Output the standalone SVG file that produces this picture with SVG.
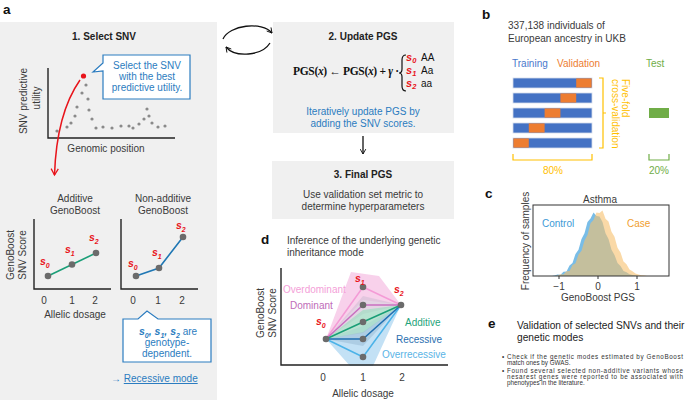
<svg xmlns="http://www.w3.org/2000/svg" width="685" height="400" viewBox="0 0 685 400">
<defs>
<style>
text{font-family:"Liberation Sans",Arial,sans-serif;}
.lbl{font-size:13.5px;font-weight:bold;fill:#111;}
.t{font-size:10px;fill:#3a3a3a;}
.tb{font-size:10px;font-weight:bold;fill:#222;}
.blue{font-size:10px;fill:#2b7cc0;}
.rs{font-size:10.5px;font-weight:bold;font-style:italic;fill:#e8141b;}
.rsub{font-size:7px;font-weight:bold;font-style:italic;fill:#e8141b;}
.bs{font-size:10.5px;font-weight:bold;font-style:italic;fill:#2b7cc0;}
.bsub{font-size:7px;font-weight:bold;font-style:italic;fill:#2b7cc0;}
.axis{fill:none;stroke:#222;stroke-width:1.4;}
.pt{fill:#6b6b6b;}
.dot{fill:#8a8a8a;}
.panel{fill:#f0f0f0;}
.callout{fill:#fff;stroke:#2b7cc0;stroke-width:1.2;}
.arrow{fill:none;stroke:#111;stroke-width:1.3;}
.serif{font-family:"Liberation Serif","Times New Roman",serif;}
.bul{font-size:6.3px;fill:#333;}
</style>
<marker id="ah" viewBox="0 0 10 10" refX="8" refY="5" markerWidth="7" markerHeight="7" orient="auto" markerUnits="userSpaceOnUse">
<path d="M1,1 L8,5 L1,9" fill="none" stroke="#111" stroke-width="1.3"/>
</marker>
<marker id="ahr" viewBox="0 0 10 10" refX="8" refY="5" markerWidth="9" markerHeight="9" orient="auto" markerUnits="userSpaceOnUse">
<path d="M1,1 L8,5 L1,9" fill="none" stroke="#e8141b" stroke-width="1.4"/>
</marker>
</defs>
<rect width="685" height="400" fill="#fff"/>

<text class="lbl" x="3" y="14">a</text>

<g id="select-snv">
<rect class="panel" x="0" y="22" width="217" height="378"/>
<text class="tb" x="104" y="40" text-anchor="middle">1. Select SNV</text>
<path class="callout" d="M103,55 H190 V99 H103 V71 L93,72 L103,63 Z"/>
<text class="blue" x="147" y="69" text-anchor="middle">Select the SNV</text>
<text class="blue" x="147" y="80" text-anchor="middle">with the best</text>
<text class="blue" x="147" y="91" text-anchor="middle">predictive utility.</text>
<path class="axis" d="M48,68 V138 H175"/>
<text class="t" transform="translate(27,101) rotate(-90)" text-anchor="middle">SNV predictive</text>
<text class="t" transform="translate(40,98) rotate(-90)" text-anchor="middle">utility</text>
<text class="t" x="106" y="152" text-anchor="middle">Genomic position</text>
<g>
<circle class="dot" cx="57" cy="131" r="1.6"/><circle class="dot" cx="67" cy="127" r="1.6"/><circle class="dot" cx="71" cy="123" r="1.6"/><circle class="dot" cx="75" cy="116" r="1.6"/><circle class="dot" cx="77" cy="107" r="1.6"/><circle class="dot" cx="82" cy="93" r="1.6"/><circle class="dot" cx="86" cy="85" r="1.6"/><circle class="dot" cx="88" cy="99" r="1.6"/><circle class="dot" cx="89" cy="110" r="1.6"/><circle class="dot" cx="92" cy="119" r="1.6"/><circle class="dot" cx="96" cy="128" r="1.6"/><circle class="dot" cx="103" cy="127" r="1.6"/><circle class="dot" cx="112" cy="128" r="1.6"/><circle class="dot" cx="121" cy="126" r="1.6"/><circle class="dot" cx="129" cy="126" r="1.6"/><circle class="dot" cx="133" cy="128" r="1.6"/><circle class="dot" cx="139" cy="124" r="1.6"/><circle class="dot" cx="144" cy="119" r="1.6"/><circle class="dot" cx="147" cy="109" r="1.6"/><circle class="dot" cx="149" cy="116" r="1.6"/><circle class="dot" cx="152" cy="123" r="1.6"/><circle class="dot" cx="158" cy="127" r="1.6"/><circle class="dot" cx="165" cy="126" r="1.6"/>
<circle cx="83.5" cy="76" r="2.6" fill="#e8141b"/>
</g>
<path d="M80,80 C66,100 56,130 54.5,175" fill="none" stroke="#e8141b" stroke-width="1.5" marker-end="url(#ahr)"/>

<text class="t" x="75" y="202" text-anchor="middle">Additive</text>
<text class="t" x="75" y="214" text-anchor="middle">GenoBoost</text>
<text class="t" x="163" y="202" text-anchor="middle">Non-additive</text>
<text class="t" x="163" y="214" text-anchor="middle">GenoBoost</text>
<text class="t" transform="translate(14,255) rotate(-90)" text-anchor="middle">GenoBoost</text>
<text class="t" transform="translate(26,255) rotate(-90)" text-anchor="middle">SNV Score</text>

<path class="axis" d="M34,219 V289 H111"/>
<line x1="48" y1="276" x2="96" y2="253" stroke="#1a9e77" stroke-width="1.6"/>
<circle class="pt" cx="48" cy="276" r="3.3"/><circle class="pt" cx="72" cy="264.5" r="3.3"/><circle class="pt" cx="96" cy="253" r="3.3"/>
<text x="40" y="265"><tspan class="rs">s</tspan><tspan class="rsub" dy="2.5">0</tspan></text>
<text x="65" y="253"><tspan class="rs">s</tspan><tspan class="rsub" dy="2.5">1</tspan></text>
<text x="89" y="241"><tspan class="rs">s</tspan><tspan class="rsub" dy="2.5">2</tspan></text>

<path class="axis" d="M121,219 V289 H198"/>
<polyline points="136,276 159,268 183,237" fill="none" stroke="#1f77b4" stroke-width="1.6"/>
<circle class="pt" cx="136" cy="276" r="3.3"/><circle class="pt" cx="159" cy="268" r="3.3"/><circle class="pt" cx="183" cy="237" r="3.3"/>
<text x="128" y="267"><tspan class="rs">s</tspan><tspan class="rsub" dy="2.5">0</tspan></text>
<text x="152" y="256"><tspan class="rs">s</tspan><tspan class="rsub" dy="2.5">1</tspan></text>
<text x="176" y="229"><tspan class="rs">s</tspan><tspan class="rsub" dy="2.5">2</tspan></text>

<text class="t" x="44" y="304" text-anchor="middle">0</text>
<text class="t" x="72" y="304" text-anchor="middle">1</text>
<text class="t" x="95" y="304" text-anchor="middle">2</text>
<text class="t" x="133" y="304" text-anchor="middle">0</text>
<text class="t" x="158" y="304" text-anchor="middle">1</text>
<text class="t" x="182" y="304" text-anchor="middle">2</text>
<text class="t" x="75" y="318" text-anchor="middle" fill="#111">Allelic dosage</text>

<path class="callout" d="M123,319 H138 L147,311 L158,319 H211 V362 H123 Z"/>
<text x="139" y="335"><tspan class="bs">s</tspan><tspan class="bsub" dy="2.5">0</tspan><tspan class="bs" dy="-2.5">, s</tspan><tspan class="bsub" dy="2.5">1</tspan><tspan class="bs" dy="-2.5">, s</tspan><tspan class="bsub" dy="2.5">2</tspan><tspan class="blue" dy="-2.5"> are</tspan></text>
<text class="blue" x="167" y="346" text-anchor="middle">genotype-</text>
<text class="blue" x="167" y="357" text-anchor="middle">dependent.</text>
<text class="blue" x="111" y="382">→ <tspan text-decoration="underline">Recessive mode</tspan></text>
</g>

<g id="update-pgs">
<rect class="panel" x="273" y="22" width="181" height="111"/>
<text class="tb" x="363" y="40" text-anchor="middle">2. Update PGS</text>
<text class="serif" x="293" y="75" font-size="11.5" font-weight="bold" fill="#111" textLength="106" lengthAdjust="spacing">PGS(<tspan font-style="italic">x</tspan>) ← PGS(<tspan font-style="italic">x</tspan>) + <tspan font-style="italic">γ</tspan> ·</text>
<path d="M406,55 Q402,55 402,60 L402,69 Q402,73 399,73 Q402,73 402,77 L402,86 Q402,91 406,91" fill="none" stroke="#111" stroke-width="1.2"/>
<g class="serif" font-weight="bold" font-style="italic" fill="#e8141b">
<text x="406" y="61"><tspan font-size="11">s</tspan><tspan font-size="7.5" dy="1.5">0</tspan></text>
<text x="406" y="74"><tspan font-size="11">s</tspan><tspan font-size="7.5" dy="1.5">1</tspan></text>
<text x="406" y="87"><tspan font-size="11">s</tspan><tspan font-size="7.5" dy="1.5">2</tspan></text>
</g>
<g class="serif" font-size="10" fill="#111">
<text x="421" y="61">AA</text>
<text x="421" y="74">Aa</text>
<text x="421" y="87">aa</text>
</g>
<text class="blue" x="363" y="115" text-anchor="middle">Iteratively update PGS by</text>
<text class="blue" x="363" y="127" text-anchor="middle">adding the SNV scores.</text>
</g>

<g id="final-pgs">
<rect class="panel" x="272" y="161" width="182" height="58"/>
<text class="tb" x="363" y="178" text-anchor="middle">3. Final PGS</text>
<text class="t" x="363" y="198" text-anchor="middle">Use validation set metric to</text>
<text class="t" x="363" y="210" text-anchor="middle">determine hyperparameters</text>
</g>

<g id="connectors">
<path class="arrow" d="M223,39 C229,25 262,21 272,33" marker-end="url(#ah)"/>
<path class="arrow" d="M270,43 C262,56 235,58 226,47" marker-end="url(#ah)"/>
<line class="arrow" x1="363" y1="136" x2="363" y2="154" marker-end="url(#ah)"/>
</g>

<g id="panel-b">
<text class="lbl" x="482" y="19">b</text>
<text class="t" x="508" y="29">337,138 individuals of</text>
<text class="t" x="508" y="42">European ancestry in UKB</text>
<text x="512" y="67" font-size="10" fill="#4a78cc">Training</text>
<text x="557" y="67" font-size="10" fill="#ed7d31">Validation</text>
<text x="646" y="67" font-size="10" fill="#70ad47">Test</text>
<g stroke="#d5ddec" stroke-width="0.8">
<rect x="513" y="78" width="79" height="10" fill="#4472c4"/>
<rect x="513" y="93" width="79" height="10" fill="#4472c4"/>
<rect x="513" y="108" width="79" height="10" fill="#4472c4"/>
<rect x="513" y="123" width="79" height="10" fill="#4472c4"/>
<rect x="513" y="138" width="79" height="10" fill="#4472c4"/>
</g>
<g fill="#ed7d31">
<rect x="576.2" y="78.4" width="15.4" height="9.2"/>
<rect x="560.4" y="93.4" width="15.8" height="9.2"/>
<rect x="544.6" y="108.4" width="15.8" height="9.2"/>
<rect x="528.8" y="123.4" width="15.8" height="9.2"/>
<rect x="513.4" y="138.4" width="15.4" height="9.2"/>
</g>
<rect x="649" y="108" width="20" height="10" fill="#70ad47"/>
<path d="M599,78 H603 V148 H599 M603,113 H606" fill="none" stroke="#ffc000" stroke-width="1.2"/>
<text transform="translate(622,79) rotate(90)" font-size="10" fill="#ffc000">Five-fold</text>
<text transform="translate(612,79) rotate(90)" font-size="10" fill="#ffc000">cross-validation</text>
<path d="M513,154 V160 H592 V154" fill="none" stroke="#ffc000" stroke-width="1.2"/>
<path d="M649,154 V160 H669 V154" fill="none" stroke="#70ad47" stroke-width="1.2"/>
<text x="553" y="174" font-size="10" fill="#ffc000" text-anchor="middle">80%</text>
<text x="659" y="174" font-size="10" fill="#70ad47" text-anchor="middle">20%</text>
</g>

<g id="panel-c">
<text class="lbl" x="485" y="198">c</text>
<text class="t" x="600" y="203" text-anchor="middle">Asthma</text>
<path d="M552,276 L554.5,275.5 L557.5,274.5 L560.5,274.7 L563.5,271.7 L566.5,271.4 L569.5,265.4 L572.5,263.1 L575.5,253.9 L578.5,249.8 L581.5,238.9 L584.5,233.3 L587.5,222 L590.5,218.6 L593.5,212.4 L596.5,215.9 L599.5,216.6 L602.5,222 L605.5,233.3 L608.5,238.9 L611.5,249.8 L614.5,254.9 L617.5,263.1 L620.5,265.9 L623.5,270.9 L626.5,272.2 L629.5,274.2 L632.5,275 L635.5,275.5 L638,276 Z" fill="#6ab6e4" fill-opacity="0.9"/>
<path d="M555,276 L557.5,275.4 L560.5,274.3 L563.5,274.4 L566.5,271.3 L569.5,271.1 L572.5,265.1 L575.5,263.2 L578.5,254.4 L581.5,250.8 L584.5,240.4 L587.5,234.9 L590.5,223.2 L593.5,220 L596.5,212.5 L599.5,213.1 L602.5,210.5 L605.5,218.7 L608.5,221.4 L611.5,231.8 L614.5,236.8 L617.5,247.7 L620.5,252.5 L623.5,261.4 L626.5,264.3 L629.5,269.6 L632.5,271.2 L635.5,273.5 L638.5,274.5 L641.5,275.2 L644.5,275.6 L647,276 Z" fill="#f6bf6c" fill-opacity="0.6"/>
<rect x="533" y="205" width="136" height="71" fill="none" stroke="#333" stroke-width="1"/>
<path d="M559,276 V279 M598,276 V279 M637,276 V279" stroke="#333" stroke-width="1"/>
<text class="t" x="559" y="290" text-anchor="middle">−1</text>
<text class="t" x="598" y="290" text-anchor="middle">0</text>
<text class="t" x="637" y="290" text-anchor="middle">1</text>
<text class="t" x="598" y="301" text-anchor="middle">GenoBoost PGS</text>
<text class="t" transform="translate(529,241) rotate(-90)" text-anchor="middle">Frequency of samples</text>
<text x="542" y="227" font-size="10" fill="#3d9ad6">Control</text>
<text x="627" y="227" font-size="10" fill="#f0a030">Case</text>
</g>

<g id="panel-d">
<text class="lbl" x="261" y="244">d</text>
<text class="t" x="287" y="244">Inference of the underlying genetic</text>
<text class="t" x="287" y="256">inheritance mode</text>
<polygon points="326,339 351,272 379,276 401,305 363,300" fill="#f6c6e6" fill-opacity="0.8"/>
<polygon points="326,339 363,296 401,305 363,314" fill="#d9c2d8" fill-opacity="0.7"/>
<polygon points="326,339 350,366 373,366 401,305 363,326" fill="#b9dcf3" fill-opacity="0.85"/>
<polygon points="326,339 363,310 401,305 363,333" fill="#a8dcc6" fill-opacity="0.8"/>
<polygon points="326,339 363,332 401,305 363,346" fill="#9fbfd9" fill-opacity="0.6"/>
<g fill="none" stroke-width="1.5">
<polyline points="326,339 363,287 401,305" stroke="#f49bd6"/>
<polyline points="326,339 363,305 401,305" stroke="#c96fc0"/>
<polyline points="326,339 363,357 401,305" stroke="#4cb3e8"/>
<polyline points="326,339 363,339 401,305" stroke="#1f6fb0"/>
<polyline points="326,339 363,322 401,305" stroke="#1a9e77"/>
</g>
<circle class="pt" cx="326" cy="339" r="3.3"/>
<circle class="pt" cx="363" cy="287" r="3.3"/>
<circle class="pt" cx="363" cy="305" r="3.3"/>
<circle class="pt" cx="363" cy="322" r="3.3"/>
<circle class="pt" cx="363" cy="339" r="3.3"/>
<circle class="pt" cx="363" cy="357" r="3.3"/>
<circle class="pt" cx="401" cy="305" r="3.3"/>
<path class="axis" d="M281,268 V365 H448"/>
<text x="316" y="325"><tspan class="rs">s</tspan><tspan class="rsub" dy="2.5">0</tspan></text>
<text x="355" y="282"><tspan class="rs">s</tspan><tspan class="rsub" dy="2.5">1</tspan></text>
<text x="394" y="293"><tspan class="rs">s</tspan><tspan class="rsub" dy="2.5">2</tspan></text>
<text x="283" y="293" font-size="10" fill="#f4a0d8">Overdominant</text>
<text x="290" y="309" font-size="10" fill="#c06bb8">Dominant</text>
<text x="405" y="326" font-size="10" fill="#1fa37a">Additive</text>
<text x="396" y="343" font-size="10" fill="#2a6fb0">Recessive</text>
<text x="382" y="358" font-size="10" fill="#5ab4e6">Overrecessive</text>
<text class="t" transform="translate(264,313) rotate(-90)" text-anchor="middle">GenoBoost</text>
<text class="t" transform="translate(276,313) rotate(-90)" text-anchor="middle">SNV Score</text>
<text class="t" x="323" y="381" text-anchor="middle">0</text>
<text class="t" x="363" y="381" text-anchor="middle">1</text>
<text class="t" x="402" y="381" text-anchor="middle">2</text>
<text class="t" x="363" y="397" text-anchor="middle" fill="#111">Allelic dosage</text>
</g>

<g id="panel-e">
<text class="lbl" x="488" y="328">e</text>
<text x="517" y="329" font-size="10.2" fill="#222">Validation of selected SNVs and their</text>
<text x="517" y="341" font-size="10.2" fill="#222">genetic modes</text>
<text class="bul" x="502" y="358.5">•</text>
<text class="bul" x="507" y="358.5" textLength="176">Check if the genetic modes estimated by GenoBoost</text>
<text class="bul" x="507" y="364.5">match ones by GWAS.</text>
<text class="bul" x="502" y="372.5">•</text>
<text class="bul" x="507" y="372.5" textLength="176">Found several selected non-additive variants whose</text>
<text class="bul" x="507" y="378.5" textLength="176">nesarest genes were reported to be associated with</text>
<text class="bul" x="507" y="385">phenotypes in the literature.</text>
</g>
</svg>
